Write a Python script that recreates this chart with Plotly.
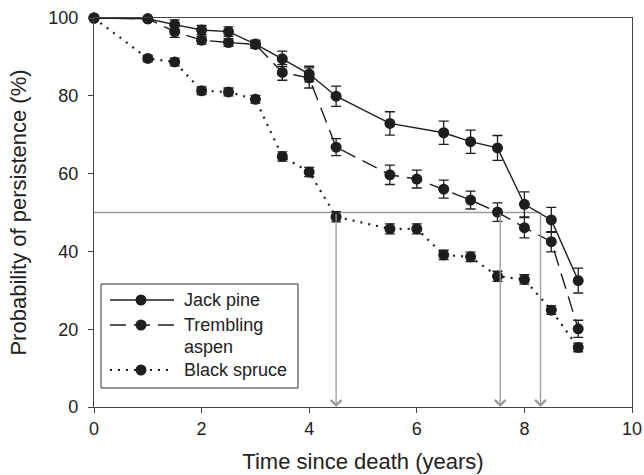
import plotly.graph_objects as go

# ---- data ----
jp_x = [0, 1, 1.5, 2, 2.5, 3, 3.5, 4, 4.5, 5.5, 6.5, 7, 7.5, 8, 8.5, 9]
jp_y = [100, 99.8, 98.3, 96.9, 96.5, 93.3, 89.5, 85.6, 79.9, 72.9, 70.5, 68.2, 66.6, 52.1, 48.1, 32.5]
jp_e = [0, 0, 1.2, 1.2, 1.2, 1.0, 2.0, 2.0, 2.6, 3.0, 3.0, 3.0, 3.2, 3.2, 3.2, 3.2]

ta_x = [0, 1, 1.5, 2, 2.5, 3, 3.5, 4, 4.5, 5.5, 6, 6.5, 7, 7.5, 8, 8.5, 9]
ta_y = [100, 99.8, 96.5, 94.3, 93.7, 93.2, 86.0, 84.6, 66.8, 59.7, 58.6, 56.0, 53.2, 50.1, 46.1, 42.5, 20.1]
ta_e = [0, 0, 1.5, 1.0, 1.0, 1.0, 2.0, 2.6, 2.2, 2.5, 2.3, 2.3, 2.3, 2.4, 2.6, 2.6, 2.2]

bs_x = [0, 1, 1.5, 2, 2.5, 3, 3.5, 4, 4.5, 5.5, 6, 6.5, 7, 7.5, 8, 8.5, 9]
bs_y = [100, 89.6, 88.7, 81.3, 81.0, 79.1, 64.4, 60.4, 48.9, 45.8, 45.8, 39.1, 38.6, 33.6, 32.8, 24.9, 15.3]
bs_e = [0, 0.8, 1.0, 1.0, 1.0, 1.0, 1.2, 1.2, 1.3, 1.3, 1.3, 1.2, 1.2, 1.3, 1.2, 1.1, 1.1]

series_names = ["Jack pine", "Trembling<br>aspen", "Black spruce"]

half_x = [4.5, 7.55, 8.3]   # times at which 50 % persistence is reached
half_level = 50

x_ticks = [0, 2, 4, 6, 8, 10]
y_ticks = [0, 20, 40, 60, 80, 100]

INK = "#1e1e1e"
GUIDE = "#9a9a9a"
TXT = "#222222"
FONT = "Liberation Sans, Arial, sans-serif"

W, H = 644, 475
ML, MR, MT, MB = 94, 12, 18, 68
PW, PH = W - ML - MR, H - MT - MB

def px2x(px):
    return (px - ML) / PW

def py2y(py):
    return (H - MB - py) / PH

styles = [("solid", 1.4), ("16px,8px", 1.4), ("2px,6px", 2.2)]

fig = go.Figure()

for (x, y, e), name, (dash, width) in zip(
        [(jp_x, jp_y, jp_e), (ta_x, ta_y, ta_e), (bs_x, bs_y, bs_e)],
        series_names, styles):
    fig.add_trace(go.Scatter(
        x=x, y=y, name=name, mode="lines+markers",
        line=dict(color=INK, width=width, dash=dash),
        marker=dict(color=INK, size=11, symbol="circle"),
        error_y=dict(type="data", array=e, visible=True, color=INK,
                     thickness=1.3, width=5),
        cliponaxis=False, showlegend=False,
    ))

# horizontal 50 % guide
fig.add_shape(type="line", x0=0, x1=max(half_x), y0=half_level, y1=half_level,
              xref="x", yref="y", line=dict(color=GUIDE, width=1.3), layer="below")

# vertical arrows
for hx in half_x:
    fig.add_annotation(x=hx, y=0, ax=hx, ay=half_level, xref="x", yref="y",
                       axref="x", ayref="y", text="", showarrow=True,
                       arrowhead=4, arrowsize=1.6, arrowwidth=1.3,
                       arrowcolor=GUIDE, standoff=0)

# ---- custom legend (box, samples, labels) ----
fig.add_shape(type="rect", xref="paper", yref="paper",
              x0=px2x(101), x1=px2x(298), y0=py2y(388), y1=py2y(284),
              line=dict(color="#333333", width=1), fillcolor="white")
row_y = [300, 325, 370]
for ry, name, (dash, width) in zip(row_y, series_names, styles):
    fig.add_shape(type="line", xref="paper", yref="paper",
                  x0=px2x(110), x1=px2x(174), y0=py2y(ry), y1=py2y(ry),
                  line=dict(color=INK, width=width, dash=dash))
    fig.add_shape(type="circle", xref="paper", yref="paper",
                  xsizemode="pixel", ysizemode="pixel",
                  xanchor=px2x(141), yanchor=py2y(ry),
                  x0=-5.5, x1=5.5, y0=-5.5, y1=5.5,
                  fillcolor=INK, line=dict(width=0))
    for k, part in enumerate(name.split("<br>")):
        fig.add_annotation(xref="paper", yref="paper", x=px2x(182),
                           y=py2y(ry + 22 * k), xanchor="left", yanchor="middle",
                           text=part, showarrow=False,
                           font=dict(family=FONT, size=18, color=TXT))

fig.update_layout(
    width=W, height=H,
    margin=dict(l=ML, r=MR, t=MT, b=MB, autoexpand=False),
    paper_bgcolor="white", plot_bgcolor="white",
    font=dict(family=FONT, size=18, color=TXT),
    showlegend=False,
    xaxis=dict(
        range=[0, 10], tickvals=x_ticks, ticks="outside", ticklen=5,
        tickcolor="#444444", showline=True, linecolor="#444444", linewidth=1.3,
        mirror=True, showgrid=False, zeroline=False,
        title=dict(text="Time since death (years)", standoff=15),
        tickfont=dict(size=18), automargin=False,
    ),
    yaxis=dict(
        range=[0, 100], tickvals=y_ticks, ticks="outside", ticklen=5,
        tickcolor="#444444", showline=True, linecolor="#444444", linewidth=1.3,
        mirror=True, showgrid=False, zeroline=False, ticklabelstandoff=6,
        title=dict(text="Probability of persistence (%)", standoff=15),
        tickfont=dict(size=18), automargin=False,
    ),
)

fig.write_html("out.html", config={"displayModeBar": False},
               post_script="document.body.style.margin='0';")
